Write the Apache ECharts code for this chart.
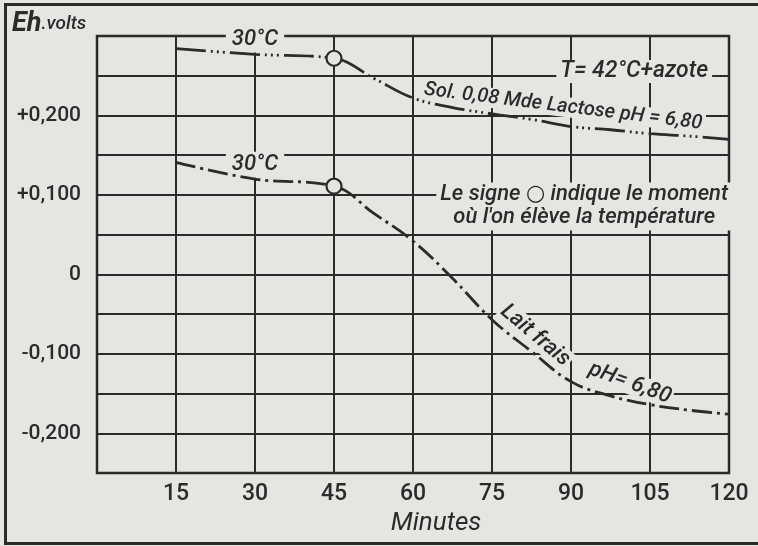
<!DOCTYPE html>
<html>
<head>
<meta charset="utf-8">
<title>Eh volts - Lait frais / Lactose</title>
<script src="https://cdn.jsdelivr.net/npm/echarts@6/dist/echarts.min.js"></script>
<style>
  html, body { margin: 0; padding: 0; background: #e5e5e1; }
  #main { width: 758px; height: 546px; }
</style>
</head>
<body>
<div id="main"></div>
<script>
// valeurs (minutes / Eh en volts)
var minutes = [15, 30, 45, 52.5, 60, 67.5, 75, 82.5, 90, 97.5, 105, 112.5, 120];
var lactose = [0.284, 0.277, 0.272, 0.247, 0.222, 0.210, 0.202, 0.195, 0.186, 0.182, 0.177, 0.174, 0.170];
var laitFrais = [0.141, 0.120, 0.111, 0.077, 0.042, -0.005, -0.057, -0.097, -0.135, -0.153, -0.164, -0.171, -0.176];

// moment où l'on élève la température
var heatMinute = 45;

// graduations
var xTicks = [15, 30, 45, 60, 75, 90, 105, 120];
var yTickValues = [-0.2, -0.1, 0, 0.1, 0.2];
var yTickLabels = ['-0,200', '-0,100', '0', '+0,100', '+0,200'];

var paper = '#e5e5e1';
var ink = '#2b2b2b';
var fontName = 'Roboto, "DejaVu Sans", sans-serif';

function pairs(ys) {
  return minutes.map(function (m, i) { return [m, ys[i]]; });
}

var heatIdx = minutes.indexOf(heatMinute);
var circles = [[heatMinute, lactose[heatIdx]], [heatMinute, laitFrais[heatIdx]]];

var chart = echarts.init(document.getElementById('main'));

var option = {
  animation: false,
  backgroundColor: paper,
  grid: {
    left: 97, right: 29, top: 36, bottom: 73,
    show: true, borderColor: ink, borderWidth: 2.5, backgroundColor: 'transparent'
  },
  xAxis: {
    type: 'value', min: 0, max: 120, interval: 15,
    axisLine: { show: false }, axisTick: { show: false },
    splitLine: { show: true, lineStyle: { color: ink, width: 2 } },
    axisLabel: {
      margin: 10, color: ink, fontFamily: fontName, fontSize: 23, fontWeight: 500,
      formatter: function (v) { return xTicks.indexOf(v) >= 0 ? String(v) : ''; }
    },
    name: 'Minutes', nameLocation: 'middle', nameGap: 36,
    nameTextStyle: { color: ink, fontFamily: fontName, fontStyle: 'italic', fontSize: 26, padding: [0, 0, 0, 46] }
  },
  yAxis: {
    type: 'value', min: -0.25, max: 0.3, interval: 0.05,
    axisLine: { show: false }, axisTick: { show: false },
    splitLine: { show: true, lineStyle: { color: ink, width: 2 } },
    axisLabel: {
      margin: 16, color: ink, fontFamily: fontName, fontSize: 21, fontWeight: 500,
      padding: [0, 0, 14, 0],
      formatter: function (v) {
        for (var i = 0; i < yTickValues.length; i++) {
          if (Math.abs(v - yTickValues[i]) < 1e-6) return yTickLabels[i];
        }
        return '';
      }
    }
  },
  series: [
    {
      name: 'Sol. 0,08 M de Lactose', type: 'line', data: pairs(lactose),
      symbol: 'none', smooth: 0.4,
      lineStyle: { color: ink, width: 2.8, cap: 'butt', type: [30, 5, 2, 4, 2, 4, 2, 5] }
    },
    {
      name: 'Lait frais', type: 'line', data: pairs(laitFrais),
      symbol: 'none', smooth: 0.4,
      lineStyle: { color: ink, width: 2.8, cap: 'butt', type: [20, 5, 3, 5] }
    },
    {
      name: 'chauffage', type: 'scatter', data: circles, z: 5,
      symbol: 'circle', symbolSize: 15,
      itemStyle: { color: paper, opacity: 1, borderColor: ink, borderWidth: 2.2 }
    }
  ]
};
chart.setOption(option);

// annotations, placées en coordonnées du graphique
function at(x, y) { return chart.convertToPixel({ gridIndex: 0 }, [x, y]); }

// cw : inclinaison en degrés, sens horaire (le texte descend vers la droite)
function note(text, x, y, cw, size, extra) {
  var p = at(x, y);
  var style = {
    text: text, fill: ink, align: 'center', verticalAlign: 'middle',
    font: 'italic 500 ' + size + 'px ' + fontName,
    backgroundColor: paper, padding: [1, 4]
  };
  for (var k in extra) style[k] = extra[k];
  return { type: 'text', x: p[0], y: p[1], rotation: -cw * Math.PI / 180, z: 1, style: style };
}

chart.setOption({
  graphic: [
    note('30°C', 30, 0.2956, 0, 22, { padding: [2, 6] }),
    note('30°C', 30, 0.138, 0, 22, { padding: [2, 6] }),
    note('T= 42°C+azote', 102, 0.2553, 0, 23, { padding: [0, 4] }),
    note('Sol. 0,08 Mde Lactose pH = 6,80', 88.5, 0.211, 7, 20, { padding: [0, 3] }),
    note('Le signe ○ indique le moment\noù l\'on élève la température', 92.5, 0.0855, 0, 22, { lineHeight: 23, padding: [1, 4] }),
    note('Lait frais', 83.2, -0.077, 40, 22, { padding: [0, 2] }),
    note('pH= 6,80', 101.2, -0.137, 20, 22, { padding: [0, 2] }),
    {
      type: 'text', x: 12, y: 11, z: 1,
      style: {
        text: '{a|Eh}{b|.volts}', fill: ink,
        rich: {
          a: { font: 'italic bold 27px ' + fontName, fill: ink },
          b: { font: 'italic 500 19px ' + fontName, fill: ink }
        }
      }
    },
    {
      type: 'polyline', z: 1,
      shape: { points: [[758, 4.5], [5.5, 4.5], [5.5, 543.5], [758, 543.5]] },
      style: { stroke: ink, lineWidth: 3, fill: null }
    }
  ]
});
</script>
</body>
</html>
